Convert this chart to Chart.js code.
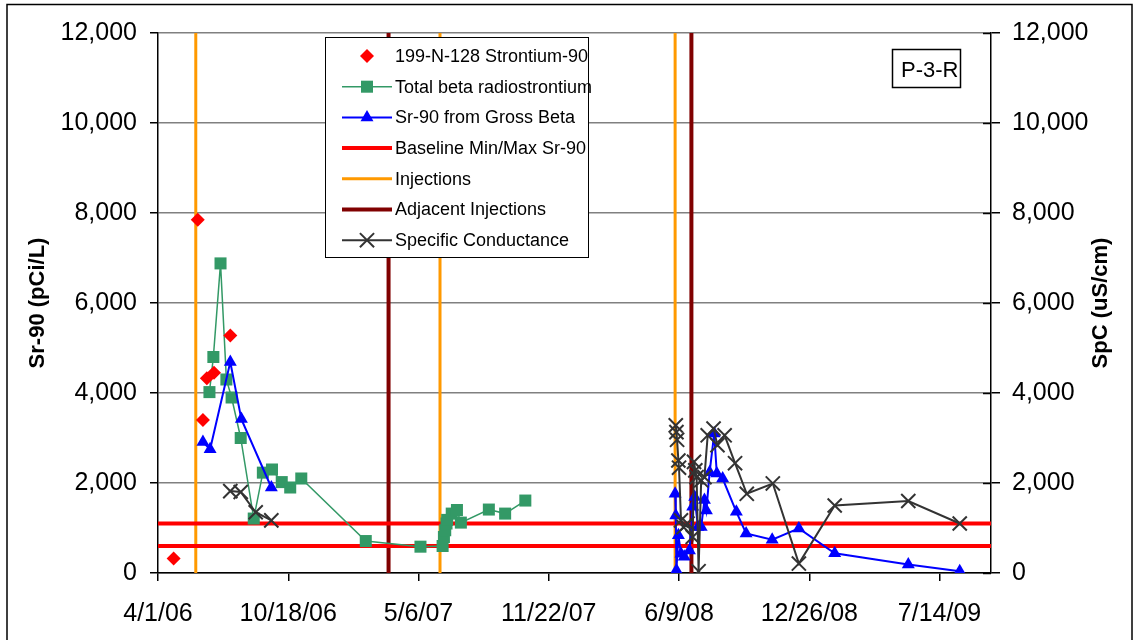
<!DOCTYPE html>
<html>
<head>
<meta charset="utf-8">
<script src="https://cdn.jsdelivr.net/npm/chart.js@4/dist/chart.umd.min.js"></script>
<style>
  html, body { margin: 0; padding: 0; background: #fff; }
  #wrap { width: 1135px; height: 640px; }
</style>
</head>
<body>
<div id="wrap"><canvas id="chart" width="1135" height="640"></canvas></div>
<script>
// Axis range (x axis counts days from startDate, like the Excel date axis)
const startDate = '2006-04-01';
const axisEnd = '2009-10-01';
const tickStepDays = 200;
const yTicks = [0, 2000, 4000, 6000, 8000, 10000, 12000];

// 199-N-128 Strontium-90
const srDates = ['2006-04-25', '2006-06-01', '2006-06-09', '2006-06-15', '2006-06-26', '2006-07-21'];
const srValues = [320, 7850, 3400, 4330, 4450, 5280];

// Total beta radiostrontium
const betaDates = ['2006-06-19', '2006-06-25', '2006-07-06', '2006-07-15', '2006-07-23', '2006-08-06',
  '2006-08-26', '2006-09-09', '2006-09-23', '2006-10-08', '2006-10-21', '2006-11-07', '2007-02-14',
  '2007-05-09', '2007-06-12', '2007-06-14', '2007-06-16', '2007-06-18', '2007-06-19', '2007-06-26',
  '2007-07-04', '2007-07-10', '2007-08-22', '2007-09-16', '2007-10-17'];
const betaValues = [4020, 4800, 6880, 4300, 3900, 3000, 1210, 2230, 2300, 2020, 1900, 2100, 710,
  585, 600, 800, 950, 1100, 1180, 1320, 1400, 1120, 1410, 1320, 1610];

// Sr-90 from Gross Beta (two sampling campaigns, not joined)
const gross06Dates = ['2006-06-09', '2006-06-20', '2006-07-21', '2006-08-07', '2006-09-22'];
const gross06Values = [2910, 2750, 4690, 3420, 1900];
const gross08Dates = ['2008-06-03', '2008-06-04', '2008-06-05', '2008-06-08', '2008-06-12', '2008-06-17',
  '2008-06-25', '2008-06-30', '2008-07-03', '2008-07-08', '2008-07-13', '2008-07-18', '2008-07-21',
  '2008-07-26', '2008-08-02', '2008-08-06', '2008-08-15', '2008-09-05', '2008-09-20', '2008-10-30',
  '2008-12-10', '2009-02-03', '2009-05-27', '2009-08-14'];
const gross08Values = [1760, 1280, 60, 840, 430, 360, 500, 1470, 1690, 1020, 1020, 1620, 1390,
  2240, 3100, 2210, 2100, 1360, 880, 740, 990, 440, 190, 40];

// Specific Conductance (right axis)
const spc06Dates = ['2006-07-21', '2006-08-06', '2006-08-29', '2006-09-22'];
const spc06Values = [1820, 1800, 1350, 1170];
const spc08Dates = ['2008-06-04', '2008-06-05', '2008-06-06', '2008-06-08', '2008-06-09', '2008-06-12',
  '2008-06-16', '2008-06-22', '2008-06-30', '2008-07-02', '2008-07-04', '2008-07-06', '2008-07-09',
  '2008-07-13', '2008-07-18', '2008-07-23', '2008-08-01', '2008-08-07', '2008-08-18', '2008-09-03',
  '2008-09-21', '2008-10-31', '2008-12-10', '2009-02-03', '2009-05-27', '2009-08-14'];
const spc08Values = [3280, 3130, 2960, 2500, 2340, 1170, 1020, 1100, 800, 2470, 2280, 2130, 40,
  2060, 2130, 3060, 3210, 2840, 3060, 2440, 1760, 1990, 210, 1500, 1600, 1100];

// Reference lines
const baselineValues = [600, 1100];
const injectionDates = ['2006-05-29', '2007-06-08', '2008-06-03'];
const adjacentDates = ['2007-03-21', '2008-06-28'];

const FONT = '"Liberation Sans", Arial, sans-serif';
const DAY = 86400000;

function dayOf(s) {
    return (Date.parse(s) - Date.parse(startDate)) / DAY;
}

function fmtDate(v) {
    const d = new Date(Date.parse(startDate) + v * DAY);
    return (d.getUTCMonth() + 1) + '/' + d.getUTCDate() + '/' + String(d.getUTCFullYear()).slice(2);
}

function toPoints(dates, values) {
    return dates.map((d, i) => ({ x: dayOf(d), y: values[i] }));
}

const xMax = dayOf(axisEnd);
const yMax = yTicks[yTicks.length - 1];

// Build the datasets
const datasets = [];

datasets.push({
    label: '199-N-128 Strontium-90', legend: true,
    data: toPoints(srDates, srValues),
    showLine: false, pointStyle: 'rectRot', pointRadius: 7, pointBorderWidth: 0,
    backgroundColor: '#ff0000', borderColor: '#ff0000', order: 1
});

datasets.push({
    label: 'Total beta radiostrontium', legend: true,
    data: toPoints(betaDates, betaValues),
    borderColor: '#339966', backgroundColor: '#339966', borderWidth: 1.5,
    pointStyle: 'rect', pointRadius: 8.5, pointBorderWidth: 0, order: 2
});

const grossStyle = {
    borderColor: '#0000ff', backgroundColor: '#0000ff', borderWidth: 2,
    pointStyle: 'triangle', pointRadius: 7.5, pointBorderWidth: 0, order: 1
};
datasets.push(Object.assign({ label: 'Sr-90 from Gross Beta', legend: true, data: toPoints(gross06Dates, gross06Values) }, grossStyle));

baselineValues.forEach((v, i) => {
    datasets.push({
        label: 'Baseline Min/Max Sr-90', legend: i === 0,
        data: [{ x: 0, y: v }, { x: xMax, y: v }],
        borderColor: '#ff0000', borderWidth: 4, pointRadius: 0, order: 8
    });
});

injectionDates.forEach((d, i) => {
    datasets.push({
        label: 'Injections', legend: i === 0,
        data: [{ x: dayOf(d), y: 0 }, { x: dayOf(d), y: yMax }],
        borderColor: '#ff9900', borderWidth: 3, pointRadius: 0, order: 9
    });
});

adjacentDates.forEach((d, i) => {
    datasets.push({
        label: 'Adjacent Injections', legend: i === 0,
        data: [{ x: dayOf(d), y: 0 }, { x: dayOf(d), y: yMax }],
        borderColor: '#800000', borderWidth: 4, pointRadius: 0, order: 9
    });
});

const spcStyle = {
    borderColor: '#333333', backgroundColor: '#333333', borderWidth: 2, yAxisID: 'y2',
    pointStyle: 'crossRot', pointRadius: 10, pointBorderWidth: 2, order: 1
};
datasets.push(Object.assign({ label: 'Specific Conductance', legend: true, data: toPoints(spc06Dates, spc06Values) }, spcStyle));
datasets.push(Object.assign({ label: 'Specific Conductance', data: toPoints(spc08Dates, spc08Values) }, spcStyle));
datasets.push(Object.assign({ label: 'Sr-90 from Gross Beta', data: toPoints(gross08Dates, gross08Values) }, grossStyle));

// Legend box drawn inside the plot, like the Excel original
const legendBox = {
    id: 'legendBox',
    afterDraw(chart) {
        const ctx = chart.ctx;
        ctx.save();
        ctx.fillStyle = '#fff';
        ctx.fillRect(325, 37, 263, 220);
        ctx.strokeStyle = '#000';
        ctx.lineWidth = 1;
        ctx.strokeRect(325.5, 37.5, 263, 220);

        ctx.font = '18px ' + FONT;
        ctx.textBaseline = 'middle';
        ctx.textAlign = 'left';
        chart.data.datasets.filter(ds => ds.legend).forEach((ds, i) => {
            const y = 56 + i * 30.7;
            ctx.strokeStyle = ds.borderColor;
            ctx.fillStyle = ds.backgroundColor || ds.borderColor;
            if (ds.showLine !== false) {
                ctx.lineWidth = ds.borderWidth;
                ctx.beginPath();
                ctx.moveTo(342, y);
                ctx.lineTo(392, y);
                ctx.stroke();
            }
            if (ds.pointRadius) {
                ctx.lineWidth = ds.pointBorderWidth || 0;
                Chart.helpers.drawPoint(ctx, {
                    pointStyle: ds.pointStyle, rotation: 0,
                    radius: ds.pointRadius, borderWidth: ds.pointBorderWidth || 0
                }, 367, y);
            }
            ctx.fillStyle = '#000';
            ctx.fillText(ds.label, 395, y + 1);
        });
        ctx.restore();
    }
};

// Well name box, right-hand axis title, inner ticks and outer frame
const extras = {
    id: 'extras',
    afterDraw(chart) {
        const ctx = chart.ctx;
        const area = chart.chartArea;
        const y2 = chart.scales.y2;
        ctx.save();
        ctx.strokeStyle = '#000';
        ctx.lineWidth = 1.5;
        // Excel draws the right axis ticks across the axis line
        y2.ticks.forEach(t => {
            const py = Math.round(y2.getPixelForValue(t.value)) + 0.5;
            ctx.beginPath();
            ctx.moveTo(area.right - 8, py);
            ctx.lineTo(area.right, py);
            ctx.stroke();
        });

        ctx.strokeRect(892.5, 49.5, 68, 38);
        ctx.fillStyle = '#000';
        ctx.font = '22px ' + FONT;
        ctx.textBaseline = 'middle';
        ctx.textAlign = 'left';
        ctx.fillText('P-3-R', 901, 71);

        ctx.translate(1101, 303);
        ctx.rotate(-Math.PI / 2);
        ctx.font = 'bold 22px ' + FONT;
        ctx.textAlign = 'center';
        ctx.fillText('SpC (uS/cm)', 0, 0);
        ctx.restore();

        ctx.save();
        ctx.strokeStyle = '#000';
        ctx.lineWidth = 1.5;
        ctx.strokeRect(7, 4.5, 1125, 660);
        ctx.restore();
    }
};

const whiteBg = {
    id: 'whiteBg',
    beforeDraw(chart) {
        const ctx = chart.ctx;
        ctx.save();
        ctx.fillStyle = '#fff';
        ctx.fillRect(0, 0, chart.width, chart.height);
        ctx.restore();
    }
};

const yTickLabel = v => v.toLocaleString('en-US');

const ctx = document.getElementById('chart').getContext('2d');
new Chart(ctx, {
    type: 'line',
    data: { datasets: datasets },
    plugins: [whiteBg, legendBox, extras],
    options: {
        responsive: false,
        animation: false,
        devicePixelRatio: 1,
        layout: { padding: { top: 33, left: 0, right: 0, bottom: 0 } },
        elements: { line: { tension: 0, fill: false } },
        plugins: {
            legend: { display: false },
            tooltip: { enabled: false }
        },
        scales: {
            x: {
                type: 'linear',
                min: 0,
                max: xMax,
                border: { color: '#000', width: 1.5 },
                grid: { drawOnChartArea: false, drawTicks: true, tickLength: 8, color: '#000', lineWidth: 1.5 },
                ticks: {
                    stepSize: tickStepDays, includeBounds: false, autoSkip: false, maxRotation: 0,
                    padding: 18, color: '#000', font: { family: FONT, size: 25 }, callback: fmtDate
                },
                afterFit: s => { s.height = 67; }
            },
            y: {
                position: 'left',
                min: 0,
                max: yMax,
                border: { color: '#000', width: 1.5 },
                grid: { color: '#808080', lineWidth: 1.5, tickColor: '#000', tickLength: 8 },
                ticks: {
                    stepSize: 2000, padding: 13, color: '#000',
                    font: { family: FONT, size: 25 }, callback: yTickLabel
                },
                title: {
                    display: true, text: 'Sr-90 (pCi/L)', color: '#000',
                    font: { family: FONT, size: 22, weight: 'bold' }, padding: { top: 25, bottom: 0 }
                },
                afterFit: s => { s.width = 158; }
            },
            y2: {
                position: 'right',
                min: 0,
                max: yMax,
                border: { color: '#000', width: 1.5 },
                grid: { drawOnChartArea: false, color: '#000', lineWidth: 1.5, tickLength: 9 },
                ticks: {
                    stepSize: 2000, padding: 12, color: '#000',
                    font: { family: FONT, size: 25 }, callback: yTickLabel
                },
                afterFit: s => { s.width = 144; }
            }
        }
    }
});
</script>
</body>
</html>
